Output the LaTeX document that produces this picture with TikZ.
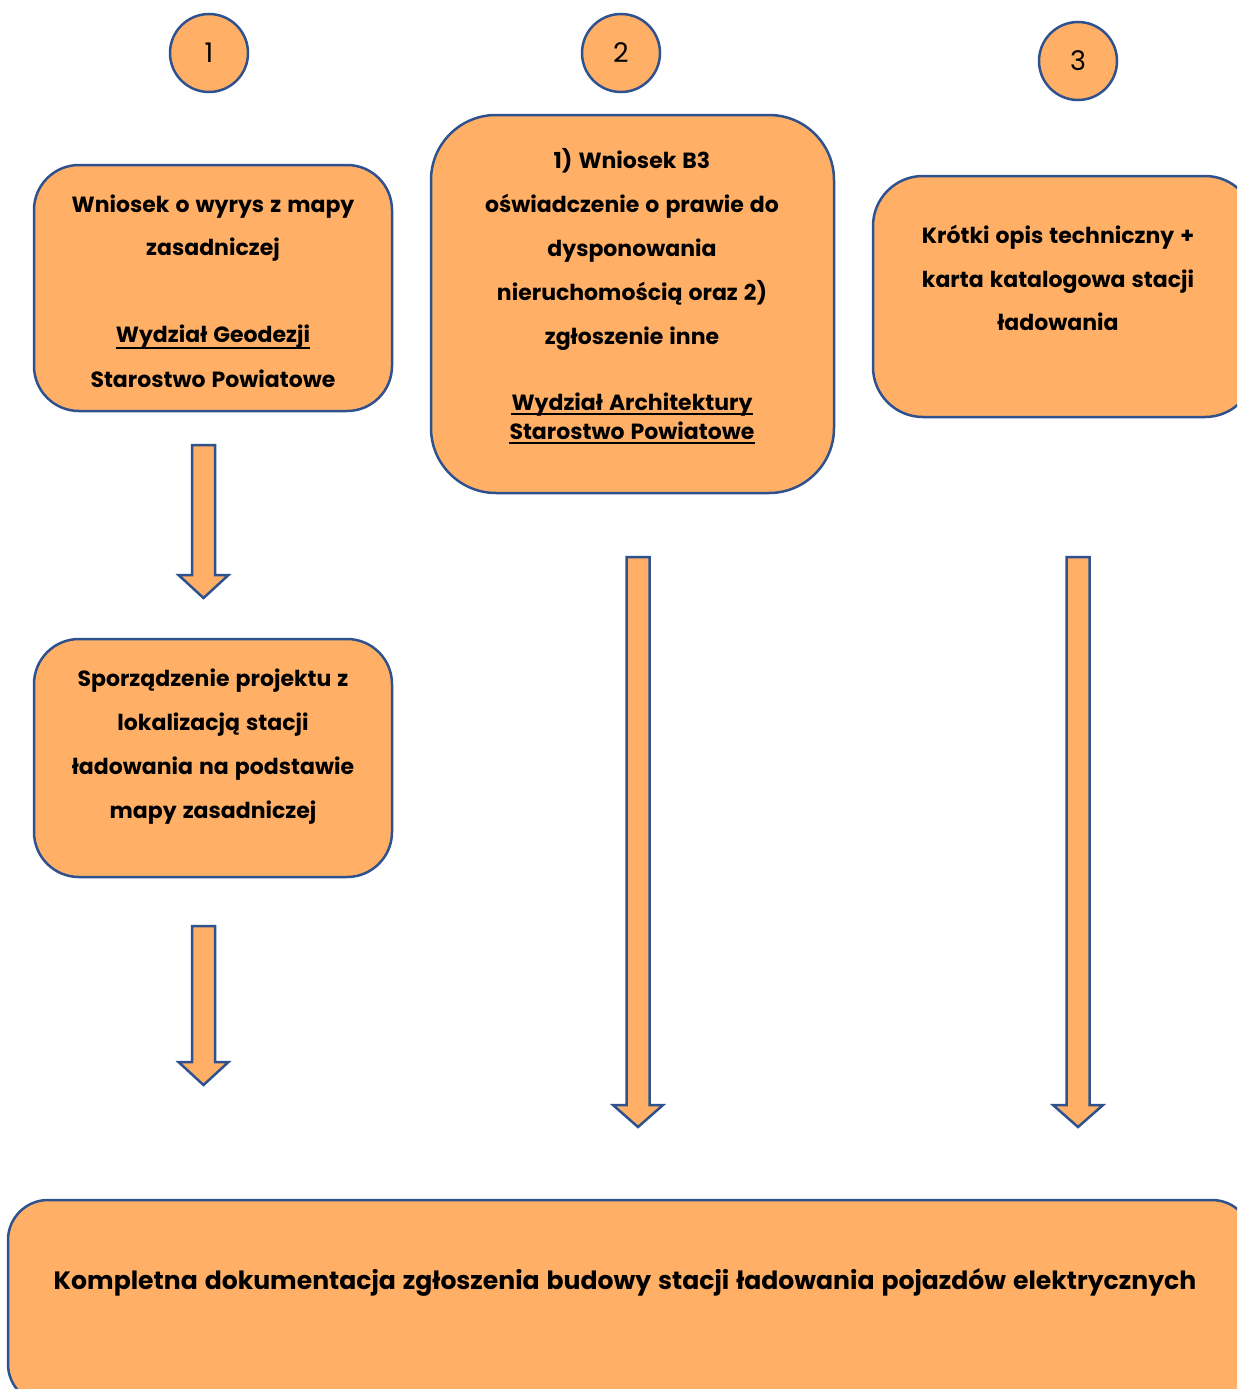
\documentclass[tikz,border=0pt]{standalone}
\usepackage{fontspec}
\setmainfont{Poppins}[WordSpace=1.3]
\definecolor{boxfill}{RGB}{255,176,102}
\definecolor{boxline}{RGB}{47,82,143}
\tikzset{
  box/.style={draw=boxline, fill=boxfill, line width=2.5pt, rounded corners=#1, inner sep=0pt},
  box/.default=45pt,
  numcirc/.style={circle, draw=boxline, fill=boxfill, line width=2.5pt, minimum size=78pt, inner sep=0pt, font=\fontsize{27}{30}\selectfont},
  txt/.style={inner sep=0pt, anchor=base, font=\fontsize{22}{25}\selectfont\bfseries},
  bigtxt/.style={inner sep=0pt, anchor=base, font=\fontsize{25.1}{28}\selectfont\bfseries},
  blockarr/.style={draw=boxline, fill=boxfill, line width=2.5pt, line join=miter},
  uline/.style={line width=2pt}
}
\newcommand\blockarrow[4]{%
  \draw[blockarr] ({#1-11.5},#2) -- ({#1+11.5},#2) -- ({#1+11.5},#3) -- ({#1+25},#3)
     -- (#1,#4) -- ({#1-25},#3) -- ({#1-11.5},#3) -- cycle;}
\begin{document}
\begin{tikzpicture}[x=1pt,y=-1pt]
\useasboundingbox (0,0) rectangle (1237,1389);
\clip (0,0) rectangle (1237,1389);
% circles
\node[numcirc] (c1) at (209,53) {\raisebox{-2pt}{1}};
\node[numcirc] (c2) at (621,53) {\raisebox{-2pt}{2}};
\node[numcirc] (c3) at (1078,61) {\raisebox{-2pt}{3}};
% boxes
\node[box, minimum width=358pt, minimum height=246pt] (b1) at (213,288) {};
\node[box=65pt, minimum width=403pt, minimum height=378pt] (b2) at (632.5,304) {};
\node[box=50pt, minimum width=382pt, minimum height=241pt] (b3) at (1064,296.5) {};
\node[box, minimum width=358pt, minimum height=238pt] (b4) at (213,758) {};
\node[box=40pt, minimum width=1244pt, minimum height=204pt] (b5) at (630,1302) {};
% box 1 text
\node[txt] (t11) at (213,212) {Wniosek o wyrys z mapy};
\node[txt] (t12) at (213,255) {zasadniczej};
\node[txt] (t13) at (213,342) {Wydział Geodezji};
\draw[uline] ([yshift=-6pt]t13.base west) -- ([yshift=-6pt]t13.base east);
\node[txt] (t14) at (213,387) {Starostwo Powiatowe};
% box 2 text
\node[txt] (t21) at (632,168) {1) Wniosek B3};
\node[txt] (t22) at (632,212) {oświadczenie o prawie do};
\node[txt] (t23) at (632,256) {dysponowania};
\node[txt] (t24) at (632,300) {nieruchomością oraz 2)};
\node[txt] (t25) at (632,344) {zgłoszenie inne};
\node[txt] (t26) at (632,410) {Wydział Architektury};
\draw[uline] ([yshift=-4pt]t26.base west) -- ([yshift=-4pt]t26.base east);
\node[txt] (t27) at (632,439) {Starostwo Powiatowe};
\draw[uline] ([yshift=-4pt]t27.base west) -- ([yshift=-4pt]t27.base east);
% box 3 text
\node[txt] (t31) at (1058,243) {Krótki opis techniczny +};
\node[txt] (t32) at (1058,287) {karta katalogowa stacji};
\node[txt] (t33) at (1058,330) {ładowania};
% box 4 text
\node[txt] (t41) at (213,686) {Sporządzenie projektu z};
\node[txt] (t42) at (213,730) {lokalizacją stacji};
\node[txt] (t43) at (213,774) {ładowania na podstawie};
\node[txt] (t44) at (213,818) {mapy zasadniczej};
% bottom text
\node[bigtxt] (t51) at (625,1289) {Kompletna dokumentacja zgłoszenia budowy stacji ładowania pojazdów elektrycznych};
% block arrows
\blockarrow{203.5}{445}{575}{598}
\blockarrow{203.5}{926}{1062}{1085}
\blockarrow{638}{557}{1105}{1127}
\blockarrow{1078}{557}{1105}{1127}
\end{tikzpicture}
\end{document}
